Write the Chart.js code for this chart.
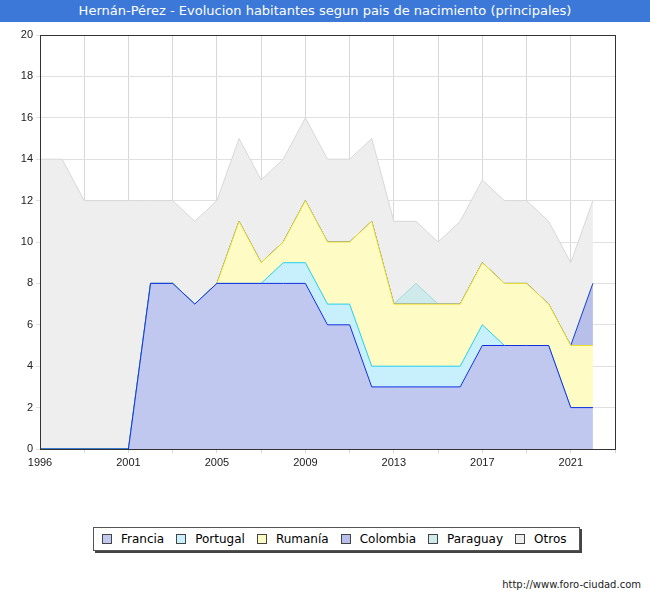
<!DOCTYPE html>
<html lang="es">
<head>
<meta charset="UTF-8">
<title>Hernán-Pérez</title>
<script src="https://cdn.jsdelivr.net/npm/chart.js"></script>
<style>
    body { margin: 0; width: 650px; height: 600px; background: #fff; font-family: 'DejaVu Sans', Verdana, sans-serif; position: relative; overflow: hidden; }
    .title { position: absolute; left: 0; top: 0; width: 650px; height: 22px; background: #3b78d8; color: #fff; font-size: 13px; line-height: 22px; text-align: center; }
    .wrap { position: absolute; left: 0; top: 22px; width: 650px; height: 450px; }
    .legend { position: absolute; left: 93px; top: 527px; height: 22px; border: 1px solid #555; box-shadow: 2px 2px 0 #444; background: #fff; display: flex; align-items: center; font-size: 12px; padding: 0 4px; }
    .legend span.item { display: flex; align-items: center; margin: 0 8px 0 4px; }
    .legend i { display: inline-block; width: 8px; height: 8px; border: 1px solid #444; margin-right: 9px; }
    .footer { position: absolute; right: 9px; top: 579px; font-size: 10px; color: #222; }
</style>
</head>
<body>
<div class="title">Hernán-Pérez - Evolucion habitantes segun pais de nacimiento (principales)</div>
<div class="wrap"><canvas id="c" width="650" height="450"></canvas></div>
<div class="legend" id="legend"></div>
<div class="footer">http://www.foro-ciudad.com</div>
<script>
const years = ['1996','1997','1998','1999','2001','2002','2003','2004','2005','2006','2007','2008','2009','2010','2011','2012','2013','2014','2015','2016','2017','2018','2019','2020','2021','2022'];
const francia  = [0,0,0,0,0,8,8,7,8,8,8,8,8,6,6,3,3,3,3,3,5,5,5,5,2,2];
const portugal = [0,0,0,0,0,0,0,0,0,0,0,1,1,1,1,1,1,1,1,1,1,0,0,0,0,0];
const rumania  = [0,0,0,0,0,0,0,0,0,3,1,1,3,3,3,7,3,3,3,3,3,3,3,2,3,3];
const colombia = [0,0,0,0,0,0,0,0,0,0,0,0,0,0,0,0,0,0,0,0,0,0,0,0,0,3];
const paraguay = [0,0,0,0,0,0,0,0,0,0,0,0,0,0,0,0,0,1,0,0,0,0,0,0,0,0];
const otros    = [14,14,12,12,12,4,4,4,4,4,4,4,4,4,4,4,4,3,3,4,4,4,4,4,4,4];

const series = [
    { label: 'Francia',  data: francia,  fill: '#c0c8f0', line: '#1030e0' },
    { label: 'Portugal', data: portugal, fill: '#c8f0fc', line: '#20d0f0' },
    { label: 'Rumanía',  data: rumania,  fill: '#fffbc4', line: '#f0e020' },
    { label: 'Colombia', data: colombia, fill: '#b8c0ea', line: '#2040d0' },
    { label: 'Paraguay', data: paraguay, fill: '#cfeaea', line: '#a0d8d8' },
    { label: 'Otros',    data: otros,    fill: '#eeeeee', line: '#d8d8d8' }
];

document.getElementById('legend').innerHTML = series.map(s =>
    '<span class="item"><i style="background:' + s.fill + '"></i>' + s.label + '</span>').join('');

new Chart(document.getElementById('c'), {
    type: 'line',
    data: {
        datasets: series.map((s, i) => ({
            label: s.label,
            data: s.data.map((v, j) => ({ x: j, y: v })),
            backgroundColor: s.fill,
            borderColor: s.line,
            borderWidth: 1,
            pointRadius: 0,
            tension: 0,
            fill: i === 0 ? 'origin' : '-1'
        }))
    },
    options: {
        responsive: false,
        animation: false,
        layout: { padding: { top: 13, right: 35, left: 0, bottom: 0 } },
        plugins: { legend: { display: false }, tooltip: { enabled: false } },
        scales: {
            x: {
                type: 'linear', min: 0, max: 26,
                ticks: {
                    stepSize: 1, autoSkip: false, maxRotation: 0,
                    color: '#222', font: { size: 11 },
                    callback: v => (v % 4 === 0 && years[v]) ? years[v] : ''
                },
                grid: { color: ctx => (ctx.tick && ctx.tick.value % 2 === 0 && ctx.tick.value > 0) ? '#d8d8d8' : 'transparent', drawTicks: true, tickLength: 4 },
                border: { color: '#333' },
                afterFit: s => { s.height = 23; }
            },
            y: {
                stacked: true, min: 0, max: 20,
                ticks: { stepSize: 2, color: '#222', font: { size: 11 } },
                grid: { color: '#e0e0e0', tickLength: 4 },
                border: { color: '#333' },
                afterFit: s => { s.width = 40; }
            }
        }
    },
    plugins: [{
        id: 'frame',
        afterDraw(chart) {
            const a = chart.chartArea, c = chart.ctx;
            c.save(); c.strokeStyle = '#333'; c.lineWidth = 1;
            c.strokeRect(a.left + 0.5, a.top + 0.5, a.right - a.left, a.bottom - a.top);
            c.restore();
        }
    }]
});
</script>
</body>
</html>
